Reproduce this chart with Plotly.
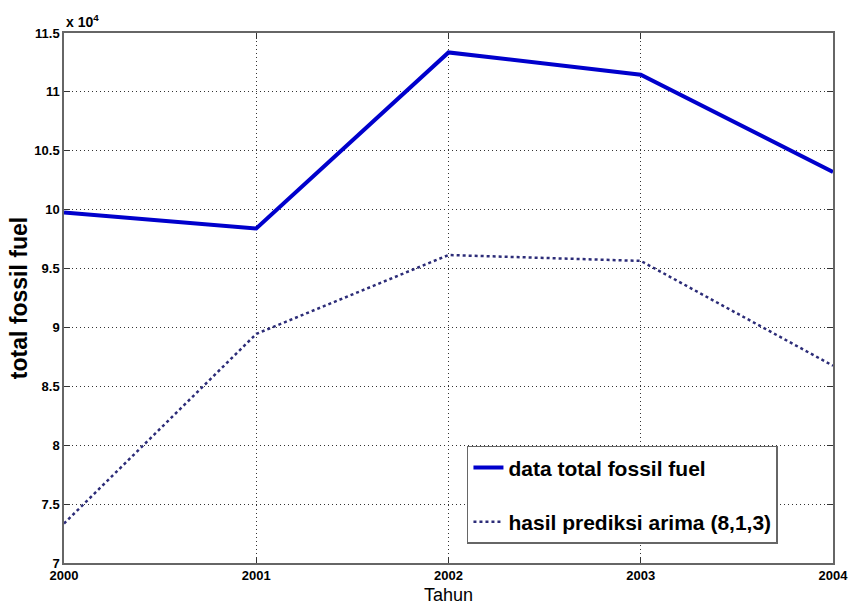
import plotly.graph_objects as go

years = [2000, 2001, 2002, 2003, 2004]
data_total = [99750, 98400, 113350, 111450, 103200]
prediksi = [73350, 89450, 96150, 95650, 86750]
ytick_vals = [70000, 75000, 80000, 85000, 90000, 95000, 100000, 105000, 110000, 115000]
ytick_text = ["7", "7.5", "8", "8.5", "9", "9.5", "10", "10.5", "11", "11.5"]
xtick_text = ["2000", "2001", "2002", "2003", "2004"]

sans = "Liberation Sans, Arial"

fig = go.Figure()
fig.add_trace(go.Scatter(x=years, y=data_total, mode="lines", name="data total fossil fuel",
                         legendgroup="a",
                         line=dict(color="#0000cc", width=4)))
fig.add_trace(go.Scatter(x=years, y=prediksi, mode="lines", name="hasil prediksi arima (8,1,3)",
                         legendgroup="b",
                         line=dict(color="#2c2c78", width=2.5, dash="dot")))

axis_common = dict(showline=True, linecolor="#666666", linewidth=1.5, mirror="ticks",
                   ticks="inside", ticklen=6, tickcolor="#333333",
                   showgrid=True, gridcolor="#333333", griddash="1px,3px", gridwidth=1,
                   zeroline=False, automargin=False)

fig.update_xaxes(range=[2000, 2004], tickvals=years, ticktext=xtick_text,
                 tickfont=dict(family=sans, size=13, color="black", weight="bold"),
                 title=dict(text="Tahun", font=dict(family=sans, size=18, color="black"), standoff=6),
                 **axis_common)
fig.update_yaxes(range=[70000, 115000], tickvals=ytick_vals, ticktext=ytick_text,
                 tickfont=dict(family=sans, size=13, color="black", weight="bold"),
                 title=dict(text="total fossil fuel", font=dict(family=sans, size=23, color="black", weight="bold"), standoff=0),
                 **axis_common)

fig.add_annotation(xref="paper", yref="paper", x=0, y=1, xanchor="left", yanchor="bottom",
                   text="x 10<sup>4</sup>", showarrow=False, yshift=1,
                   font=dict(family=sans, size=14, color="black", weight="bold"))

fig.update_layout(width=850, height=612, margin=dict(l=64, r=17, t=33, b=49),
                  paper_bgcolor="white", plot_bgcolor="white",
                  legend=dict(x=0.524, y=0.221, xanchor="left", yanchor="top",
                              bgcolor="white", bordercolor="#666666", borderwidth=1.5,
                              font=dict(family=sans, size=21, color="black", weight="bold"),
                              traceorder="grouped", tracegroupgap=24,
                              itemwidth=30),
                  showlegend=True)

fig.write_html("out.html")
